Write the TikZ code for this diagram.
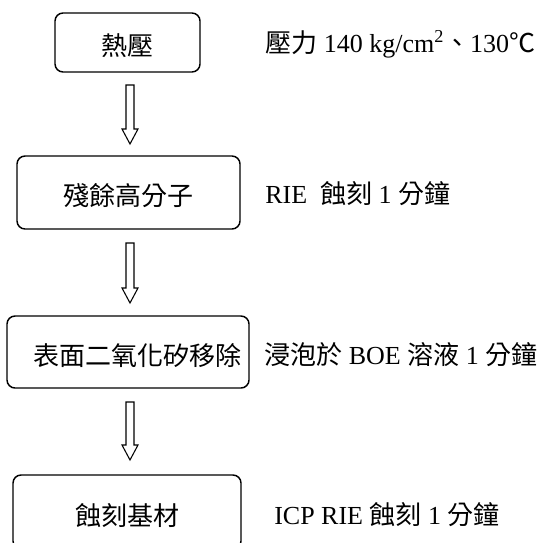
\documentclass[tikz,border=0pt]{standalone}
\usepackage{fontspec}
\setmainfont{Liberation Serif}
\newfontfamily\cjk{Noto Sans CJK TC}
\usetikzlibrary{calc}

\tikzset{
  stepbox/.style={draw, rounded corners=6pt, line width=1.1pt, inner sep=0pt,
    text height=20pt, text depth=0pt},
  flowarrow/.style={draw, line width=0.8pt, line join=miter},
  note/.style={anchor=base west, inner sep=0pt}
}
% hollow block arrow from coordinate #1 down to tip #2
\newcommand{\hollowdown}[2]{%
  \draw[flowarrow] ($(#1)+(-4,0)$) -- ($(#2)+(-4,-15)$) -- ($(#2)+(-8,-15)$)
    -- (#2) -- ($(#2)+(8,-15)$) -- ($(#2)+(4,-15)$) -- ($(#1)+(4,0)$) -- cycle;}

\begin{document}
\begin{tikzpicture}[x=0.75pt,y=-0.75pt]
  \fontsize{19.5pt}{23pt}\selectfont
  \useasboundingbox (0,0) rectangle (559,542);

  % process steps
  \node[stepbox, minimum width=108.75pt, minimum height=44.25pt] (press) at (127.5,42.5) {\cjk 熱壓};
  \node[stepbox, minimum width=167.25pt, minimum height=54.75pt] (poly) at (128.5,192.5) {\cjk 殘餘高分子};
  \node[stepbox, minimum width=181.5pt, minimum height=54pt] (oxide) at (128,352) {\hspace*{13.5pt}\cjk 表面二氧化矽移除};
  \node[stepbox, minimum width=171pt, minimum height=55.5pt] (etch) at (127,512) {\cjk 蝕刻基材};

  % arrows between the steps
  \coordinate (a1s) at (130,85);  \coordinate (a1e) at (130,144);
  \coordinate (a2s) at (130,243); \coordinate (a2e) at (130,303);
  \coordinate (a3s) at (130,402); \coordinate (a3e) at (130,460);
  \hollowdown{a1s}{a1e}
  \hollowdown{a2s}{a2e}
  \hollowdown{a3s}{a3e}

  % conditions
  \node[note] (pressnote) at (265,53) {{\cjk 壓力} 140 kg/cm\textsuperscript{2}{\cjk 、}130{\cjk ℃}};
  \node[note] (polynote) at (265,203) {RIE\ \ {\cjk 蝕刻} 1 {\cjk 分鐘}};
  \node[note] (oxidenote) at (264,364) {{\cjk 浸泡於} BOE {\cjk 溶液} 1 {\cjk 分鐘}};
  \node[note] (etchnote) at (274,524) {ICP RIE {\cjk 蝕刻} 1 {\cjk 分鐘}};
\end{tikzpicture}
\end{document}
